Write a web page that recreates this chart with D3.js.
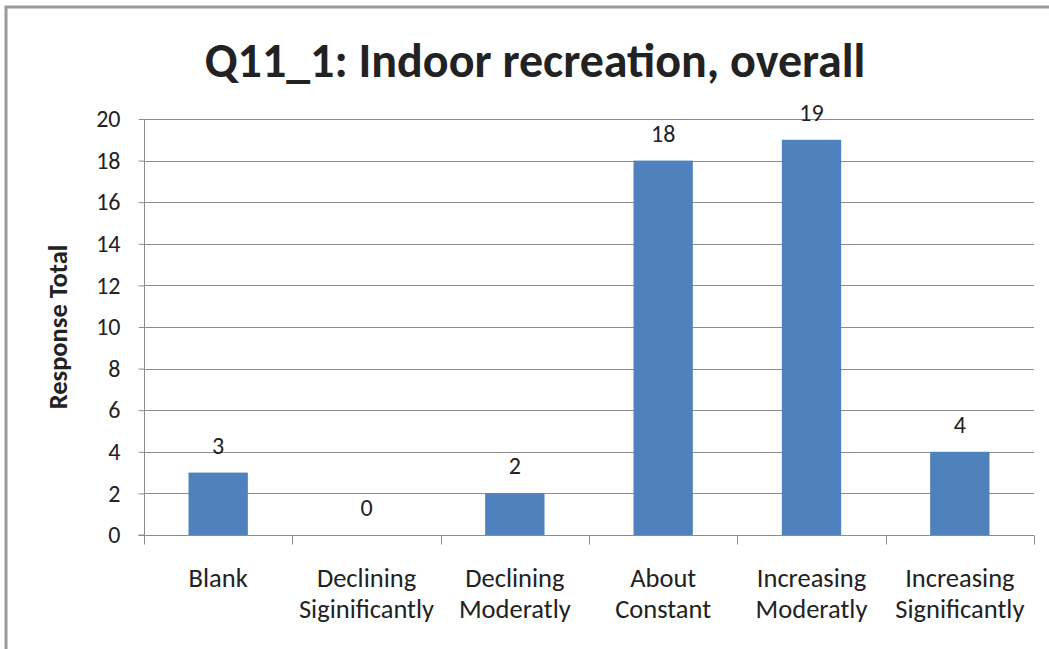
<!DOCTYPE html>
<html>
<head>
<meta charset="utf-8">
<script src="https://cdn.jsdelivr.net/npm/d3@7"></script>
<style>
  html, body { margin: 0; padding: 0; background: #fff; }
  svg { display: block; }
  text { font-family: Carlito, Lato, "Open Sans", sans-serif; fill: #222; }
</style>
</head>
<body>
<svg id="chart" width="1049" height="649"></svg>
<script>
const categories = [
  ["Blank"],
  ["Declining", "Siginificantly"],
  ["Declining", "Moderatly"],
  ["About", "Constant"],
  ["Increasing", "Moderatly"],
  ["Increasing", "Significantly"]
];
const values = [3, 0, 2, 18, 19, 4];
const yTicks = [0, 2, 4, 6, 8, 10, 12, 14, 16, 18, 20];
const titleText = "Q11_1: Indoor recreation, overall";
const yAxisTitle = "Response Total";

const svg = d3.select("#chart");
const W = 1049, H = 649;
const plot = { left: 144, right: 1034, top: 119, bottom: 535 };

svg.append("rect").attr("x", 0).attr("y", 0).attr("width", W).attr("height", H).attr("fill", "#fff");
svg.append("path")
  .attr("d", `M6,${H} L6,7 L${W},7`)
  .attr("fill", "none").attr("stroke", "#9a9a9a").attr("stroke-width", 3);

const keys = categories.map((c, i) => i);
const x = d3.scaleBand().domain(keys).range([plot.left, plot.right]).paddingInner(0.6).paddingOuter(0.3);
const xb = d3.scaleBand().domain(keys).range([plot.left, plot.right]);
const y = d3.scaleLinear().domain([0, 20]).range([plot.bottom, plot.top]);

svg.append("g").selectAll("line").data(yTicks.filter(d => d > 0)).join("line")
  .attr("x1", plot.left).attr("x2", plot.right)
  .attr("y1", d => Math.round(y(d)) + 0.5).attr("y2", d => Math.round(y(d)) + 0.5)
  .attr("stroke", "#8c8c8c").attr("stroke-width", 1);

svg.append("g").selectAll("rect").data(values).join("rect")
  .attr("x", (d, i) => x(i)).attr("width", x.bandwidth())
  .attr("y", d => y(d)).attr("height", d => y(0) - y(d))
  .attr("fill", "#4f81bd");

const yAxis = d3.axisLeft(y).tickValues(yTicks).tickSize(6).tickPadding(18);
const gy = svg.append("g").attr("transform", `translate(${plot.left + 0.5},0)`).call(yAxis);
gy.select(".domain").attr("stroke", "#8c8c8c").attr("d", `M-6,${plot.bottom}H0V${plot.top}`);
gy.selectAll(".tick line").attr("stroke", "#8c8c8c");
gy.selectAll(".tick text").attr("font-size", 24).attr("fill", "#222")
  .style("font-family", "Carlito, Lato, 'Open Sans', sans-serif");

const gx = svg.append("g").attr("transform", `translate(0,${Math.round(y(0)) + 0.5})`);
gx.append("line").attr("x1", plot.left).attr("x2", plot.right).attr("y1", 0).attr("y2", 0).attr("stroke", "#8c8c8c");
const bounds = keys.map(k => xb(k)).concat([plot.right]);
gx.selectAll("line.tk").data(bounds).join("line").attr("class", "tk")
  .attr("x1", d => Math.round(d) + 0.5).attr("x2", d => Math.round(d) + 0.5)
  .attr("y1", 0).attr("y2", 9).attr("stroke", "#8c8c8c");

const lbl = gx.selectAll("text.cat").data(categories).join("text").attr("class", "cat")
  .attr("text-anchor", "middle").attr("font-size", 26.5)
  .attr("transform", (d, i) => `translate(${xb(i) + xb.bandwidth() / 2},51)`);
lbl.selectAll("tspan").data(d => d).join("tspan")
  .attr("x", 0).attr("dy", (d, j) => j === 0 ? 0 : 31).text(d => d);

svg.append("g").selectAll("text").data(values).join("text")
  .attr("x", (d, i) => x(i) + x.bandwidth() / 2)
  .attr("y", d => y(d) - 19)
  .attr("text-anchor", "middle").attr("font-size", 24)
  .text(d => d);

svg.append("text").attr("x", 535).attr("y", 77).attr("text-anchor", "middle")
  .attr("font-size", 48).attr("font-weight", "bold").attr("fill", "#000")
  .text(titleText);

svg.append("text").attr("transform", `translate(67,327) rotate(-90)`)
  .attr("text-anchor", "middle").attr("font-size", 26.5).attr("font-weight", "bold").attr("fill", "#000")
  .text(yAxisTitle);
</script>
</body>
</html>
